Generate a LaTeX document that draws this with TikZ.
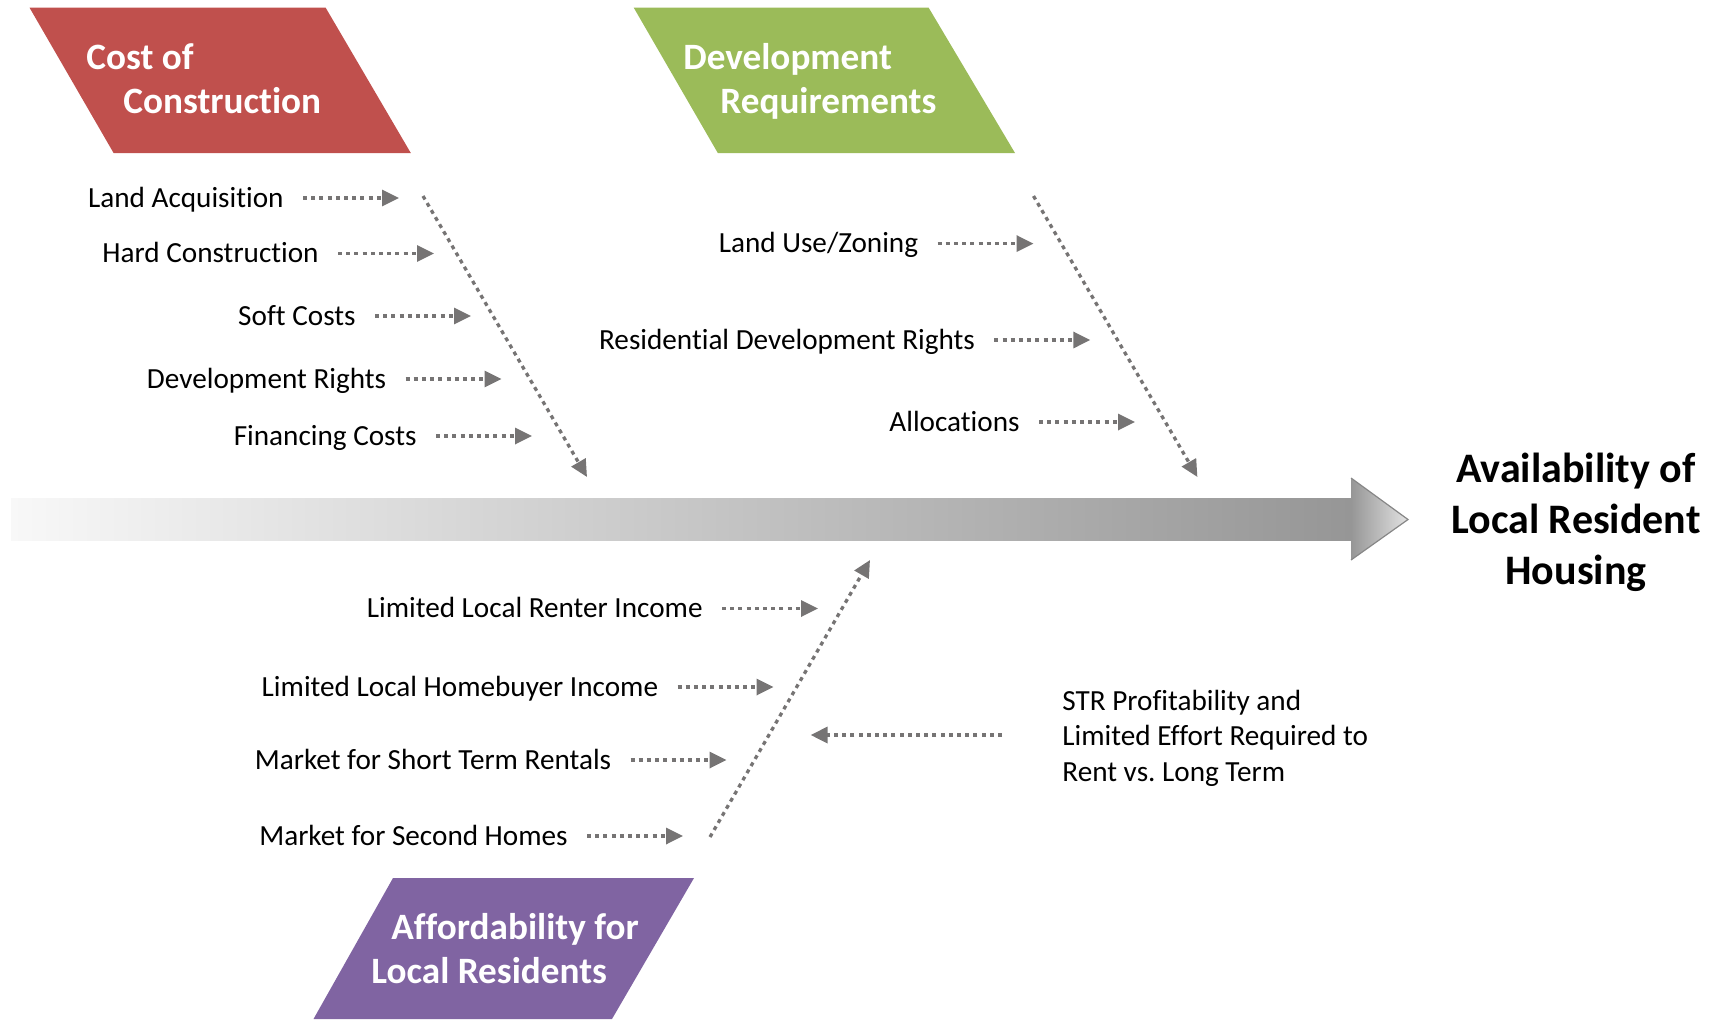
\documentclass[tikz,border=0pt]{standalone}
\usepackage{fontspec}
\setmainfont{Carlito}[Ligatures=NoCommon]
\usetikzlibrary{positioning,arrows.meta}
\definecolor{myred}{RGB}{192,80,77}
\definecolor{mygreen}{RGB}{155,187,89}
\definecolor{mypurple}{RGB}{128,100,162}
\definecolor{mydots}{RGB}{118,116,116}
\definecolor{spinelight}{RGB}{248,248,248}
\definecolor{spinedark}{RGB}{150,150,150}
\definecolor{tiplight}{RGB}{226,226,226}
\newcommand{\causefont}{\fontsize{14.6}{17.75}\selectfont}
\newcommand{\headfont}{\fontsize{18.6}{22}\selectfont\bfseries}
\newcommand{\feedspan}{57.5pt}
\newcommand{\feedgap}{9.5pt}
\tikzset{
    dots/.style={mydots, line width=1.65pt, dash pattern=on 2pt off 2.1pt,
        -{Triangle[length=8.5pt, width=8pt]}},
    feeder/.style={dots, shorten <=\feedgap},
    bone/.style={dots},
    cause/.style={inner sep=0pt, font=\causefont, text height=2.15ex, text depth=.25ex},
    head/.style={inner sep=0pt, font=\headfont, text=white, align=left, anchor=west},
    spine/.style={shading=axis, left color=spinelight, right color=spinedark},
    spinetip/.style={shading=axis, left color=spinedark, right color=tiplight}
}

\begin{document}
\begin{tikzpicture}[x=0.5pt, y=-0.5pt]
    \useasboundingbox (0,0) rectangle (1713,1019);

    \fill[myred] (29.5,7.6) -- (325.6,7.6) -- (410.8,153) -- (113.6,153) -- cycle;
    \fill[mygreen] (633.7,7.6) -- (928.6,7.6) -- (1015,153) -- (717.8,153) -- cycle;
    \fill[mypurple] (393,878) -- (694,878) -- (612,1019) -- (313.5,1019) -- cycle;
    \node[head] (cost) at (86,82.5) {\strut Cost of\\\hspace*{18.5pt}\strut Construction};
    \node[head] (devreq) at (683,82.5) {\strut Development\\\hspace*{18.5pt}\strut Requirements};
    \node[head] (afford) at (371,953) {\hspace*{10pt}\strut Affordability for\\\strut Local Residents};

    \path[spine] (11,498) rectangle (1351,540);
    \path[spinetip] (1351,478) -- (1408,519.5) -- (1351,560) -- cycle;
    \draw[spinedark!90!black, line width=0.6pt] (1351,478) -- (1408,519.5) -- (1351,560);
    \node[inner sep=0pt, align=center, font=\fontsize{21}{25.5}\selectfont\bfseries] (avail)
        at (1576,522) {Availability of\\Local Resident\\Housing};

    \coordinate (cost-top) at (423,196);
    \coordinate (cost-end) at (587,477);
    \coordinate (dev-top) at (1033.5,196);
    \coordinate (dev-end) at (1197.4,477);
    \coordinate (aff-bot) at (710,837);
    \coordinate (aff-end) at (870,560);
    \draw[bone] (cost-top) -- (cost-end);
    \draw[bone] (dev-top) -- (dev-end);
    \draw[bone] (aff-bot) -- (aff-end);

    \coordinate (land-tip) at (399,198);
    \coordinate (hard-tip) at (434,253.5);
    \coordinate (soft-tip) at (471,316);
    \coordinate (rights-tip) at (501.5,379);
    \coordinate (finance-tip) at (532,436);
    \node[cause, left=\feedspan of land-tip] (land) {Land Acquisition};
    \node[cause, left=\feedspan of hard-tip] (hard) {Hard Construction};
    \node[cause, left=\feedspan of soft-tip] (soft) {Soft Costs};
    \node[cause, left=\feedspan of rights-tip] (rights) {Development Rights};
    \node[cause, left=\feedspan of finance-tip] (finance) {Financing Costs};
    \draw[feeder] (land) -- (land-tip);
    \draw[feeder] (hard) -- (hard-tip);
    \draw[feeder] (soft) -- (soft-tip);
    \draw[feeder] (rights) -- (rights-tip);
    \draw[feeder] (finance) -- (finance-tip);

    \coordinate (zoning-tip) at (1033.5,243.6);
    \coordinate (resdev-tip) at (1090.3,340);
    \coordinate (alloc-tip) at (1135,422);
    \node[cause, left=\feedspan of zoning-tip] (zoning) {Land Use/Zoning};
    \node[cause, left=\feedspan of resdev-tip] (resdev) {Residential Development Rights};
    \node[cause, left=\feedspan of alloc-tip] (alloc) {Allocations};
    \draw[feeder] (zoning) -- (zoning-tip);
    \draw[feeder] (resdev) -- (resdev-tip);
    \draw[feeder] (alloc) -- (alloc-tip);

    \coordinate (renter-tip) at (818,608.5);
    \coordinate (buyer-tip) at (773.5,687);
    \coordinate (str-tip) at (726.5,760);
    \coordinate (second-tip) at (683,836);
    \node[cause, left=\feedspan of renter-tip] (renter) {Limited Local Renter Income};
    \node[cause, left=\feedspan of buyer-tip] (buyer) {Limited Local Homebuyer Income};
    \node[cause, left=\feedspan of str-tip] (strmarket) {Market for Short Term Rentals};
    \node[cause, left=\feedspan of second-tip] (second) {Market for Second Homes};
    \draw[feeder] (renter) -- (renter-tip);
    \draw[feeder] (buyer) -- (buyer-tip);
    \draw[feeder] (strmarket) -- (str-tip);
    \draw[feeder] (second) -- (second-tip);

    \coordinate (profit-tip) at (810.6,735);
    \node[inner sep=0pt, anchor=west, align=left, font=\fontsize{14.6}{17.75}\selectfont] (profit)
        at (1062,738) {STR Profitability and\\Limited Effort Required to\\Rent vs.\ Long Term};
    \draw[feeder, shorten <=30pt] (profit.west |- profit-tip) -- (profit-tip);
\end{tikzpicture}
\end{document}
